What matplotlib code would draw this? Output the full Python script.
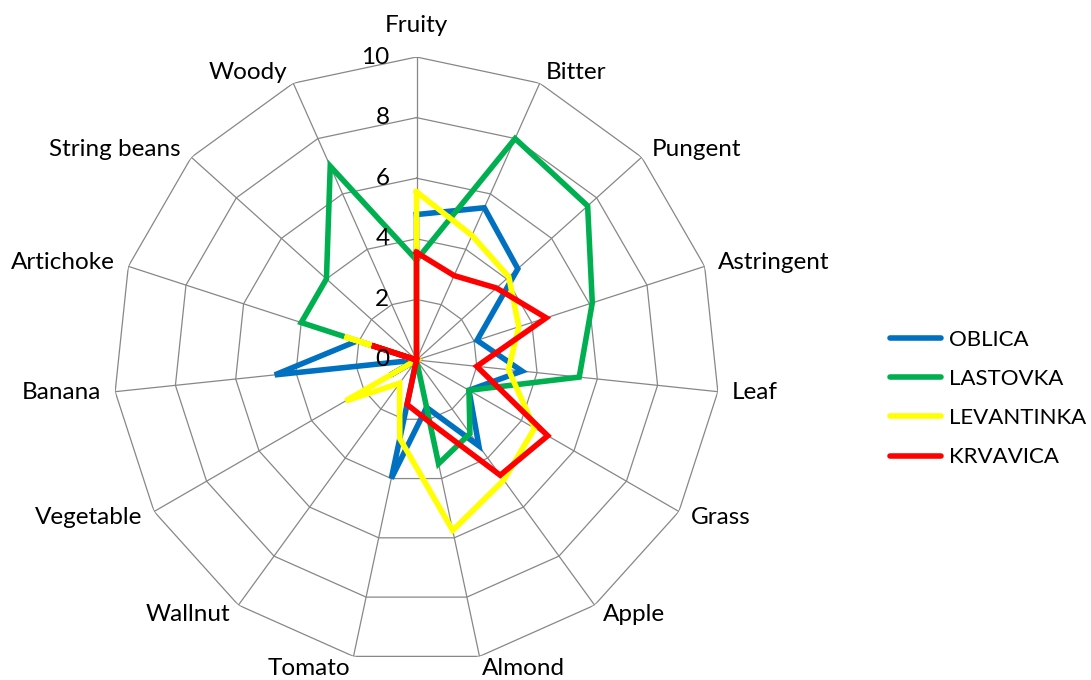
import numpy as np
import matplotlib
matplotlib.use("Agg")
import matplotlib.pyplot as plt

categories = ["Fruity", "Bitter", "Pungent", "Astringent", "Leaf", "Grass", "Apple",
              "Almond", "Tomato", "Wallnut", "Vegetable", "Banana", "Artichoke",
              "String beans", "Woody"]
oblica     = [4.8, 5.5, 4.5, 2.1, 3.5, 2.0, 3.5, 1.6, 4.0, 0.0, 0.0, 4.7, 2.05, 0.0, 0.0]
lastovka   = [3.3, 8.0, 7.6, 6.1, 5.4, 2.0, 3.0, 3.5, 0.0, 0.0, 1.0, 0.0, 4.0, 4.0, 7.0]
levantinka = [5.55, 4.5, 4.1, 3.55, 3.05, 4.5, 4.9, 5.75, 2.65, 0.95, 2.7, 0.0, 2.5, 0.0, 0.0]
krvavica   = [3.55, 3.05, 3.55, 4.5, 2.0, 5.0, 4.7, 2.1, 1.5, 0.0, 0.0, 0.0, 1.55, 0.0, 0.0]
series_names = ["OBLICA", "LASTOVKA", "LEVANTINKA", "KRVAVICA"]
series_colors = ["#0070C0", "#00B050", "#FFFF00", "#FF0000"]
ticks = [0, 2, 4, 6, 8, 10]

plt.rcParams['font.family'] = ['Lato', 'DejaVu Sans']
FS = 17.5
LFS = 16

fig = plt.figure(figsize=(10.91, 6.80), dpi=100)
ax = fig.add_axes([113.5 / 1091, 17 / 680, 606 / 1091, 606 / 680], projection='polar')
ax.set_theta_zero_location('N')
ax.set_theta_direction(-1)
ax.set_ylim(0, 10)
ax.axis('off')

n = len(categories)
angles = list(np.arange(n) * 2 * np.pi / n)
closed = angles + [angles[0]]

grid_col = "#878787"
for r in ticks[1:]:
    ax.plot(closed, [r] * (n + 1), color=grid_col, lw=0.9, zorder=1)
for a in angles:
    ax.plot([a, a], [0, 10], color=grid_col, lw=0.9, zorder=1)

for t in ticks:
    ax.annotate(str(t), xy=(0, t), xytext=(-27, 0), textcoords='offset pixels',
                ha='right', va='center', fontsize=FS, color='black', zorder=5)

for i, (cat, a) in enumerate(zip(categories, angles)):
    s, c = np.sin(a), np.cos(a)
    if i == 0:
        ha, off = 'center', (0, 32)
    else:
        ha = 'left' if s > 0 else 'right'
        off = (14 * s, 12 * c)
    ax.annotate(cat, xy=(a, 10), xytext=off, textcoords='offset pixels',
                ha=ha, va='center', fontsize=FS, color='black')

data = [oblica, lastovka, levantinka, krvavica]
for name, vals, col in zip(series_names, data, series_colors):
    ax.plot(closed, list(vals) + [vals[0]], color=col, lw=4.0, label=name,
            solid_joinstyle='miter', zorder=3)

leg = fig.legend(loc='upper left', bbox_to_anchor=(890 / 1091, 1 - 330 / 680),
                 frameon=False, fontsize=LFS, handlelength=2.3, handletextpad=0.35,
                 labelspacing=0.86, borderpad=0, borderaxespad=0)
for h in leg.get_lines():
    h.set_linewidth(4.0)
    h.set_solid_capstyle('round')

fig.savefig("out.png", dpi=100)
